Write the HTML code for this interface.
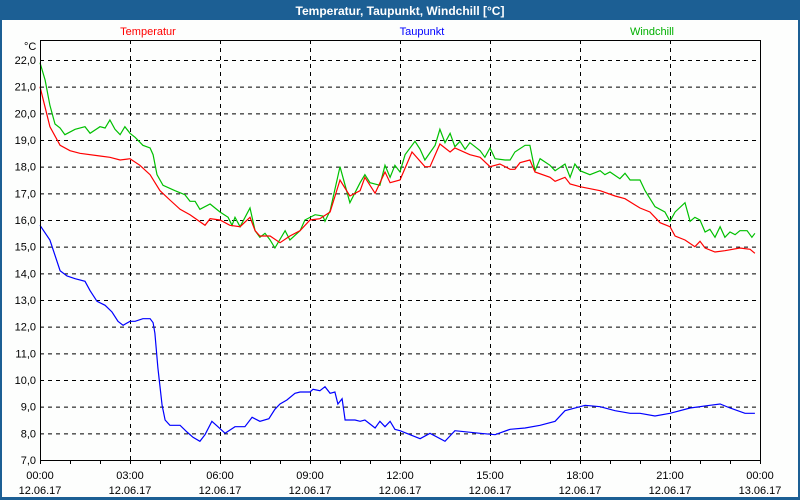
<!DOCTYPE html>
<html><head><meta charset="utf-8"><style>
html,body{margin:0;padding:0;background:#fff}
svg{display:block;font-family:"Liberation Sans",sans-serif}
</style></head><body>
<svg id="chart" width="800" height="500" viewBox="0 0 800 500">
<rect x="0" y="0" width="800" height="500" fill="#1c5f94"/>
<rect x="2" y="20" width="796" height="477" fill="#fdfefd"/>
<text x="400" y="15" text-anchor="middle" fill="#fff" font-weight="bold" font-size="12">Temperatur, Taupunkt, Windchill [°C]</text>
<text x="148" y="35" text-anchor="middle" fill="#ff0000" font-size="11">Temperatur</text>
<text x="422" y="35" text-anchor="middle" fill="#0000ff" font-size="11">Taupunkt</text>
<text x="652" y="35" text-anchor="middle" fill="#00b000" font-size="11">Windchill</text>
<text x="24" y="50" fill="#000" font-size="11">°C</text>
<g id="grid"></g><g id="series"></g><g id="axes"></g>
</svg>
<script>
const yTicks=[7,8,9,10,11,12,13,14,15,16,17,18,19,20,21,22];
const xTickHours=[0,3,6,9,12,15,18,21,24];
const xTimeLabels=["00:00","03:00","06:00","09:00","12:00","15:00","18:00","21:00","00:00"];
const xDateLabels=["12.06.17","12.06.17","12.06.17","12.06.17","12.06.17","12.06.17","12.06.17","12.06.17","13.06.17"];
const tempHours=[0,0.33,0.67,1,1.33,2,2.33,2.67,3,3.33,3.67,4,4.33,4.67,5,5.5,5.67,6,6.33,6.67,7,7.17,7.33,7.67,8,8.33,8.67,9,9.33,9.67,10,10.33,10.67,10.83,11.17,11.5,11.67,12,12.4,12.83,13,13.33,13.67,13.83,14.33,14.67,15,15.33,15.67,15.83,16,16.33,16.5,17,17.17,17.5,17.67,18,18.67,19.17,19.5,20,20.33,20.67,21,21.17,21.5,21.83,22,22.17,22.5,22.83,23.33,23.67,23.83];
const tempValues=[21.0,19.5,18.8,18.6,18.5,18.4,18.35,18.25,18.3,18.05,17.7,17.1,16.75,16.4,16.2,15.8,16.05,16.0,15.8,15.75,16.1,15.6,15.4,15.4,15.15,15.4,15.6,16.0,16.05,16.3,17.5,16.9,17.1,17.6,17.0,17.8,17.4,17.5,18.55,18.0,18.0,18.85,18.55,18.7,18.45,18.35,18.0,18.1,17.9,17.9,18.15,18.25,17.8,17.6,17.45,17.6,17.35,17.25,17.1,16.9,16.8,16.45,16.3,15.9,15.75,15.4,15.25,15.0,15.2,14.95,14.8,14.85,14.95,14.9,14.75];
const windHours=[0,0.17,0.33,0.5,0.67,0.83,1.17,1.5,1.67,2,2.17,2.33,2.5,2.67,2.83,3,3.17,3.43,3.67,3.77,3.9,4.1,4.5,4.83,5,5.17,5.33,5.67,6,6.27,6.4,6.5,6.67,7,7.17,7.33,7.5,7.67,7.83,8.17,8.33,8.67,8.83,9.17,9.43,9.5,9.67,10,10.33,10.67,10.83,11,11.33,11.5,11.67,11.83,12,12.17,12.5,12.67,12.83,13.17,13.33,13.5,13.67,13.83,14,14.17,14.33,14.67,14.83,15,15.17,15.5,15.67,15.83,16.17,16.33,16.5,16.67,17,17.17,17.5,17.67,17.83,18,18.33,18.67,18.83,19,19.33,19.5,19.67,20,20.17,20.5,20.83,21,21.17,21.5,21.67,21.83,22,22.17,22.33,22.5,22.67,22.83,23,23.17,23.33,23.57,23.73,23.83];
const windValues=[21.9,21.25,20.3,19.6,19.45,19.2,19.4,19.5,19.25,19.5,19.45,19.75,19.4,19.2,19.5,19.25,19.1,18.8,18.7,18.45,17.7,17.3,17.1,16.95,16.7,16.7,16.4,16.6,16.3,16.1,15.8,16.1,15.75,16.45,15.6,15.35,15.5,15.25,14.95,15.6,15.25,15.6,16.0,16.2,16.15,15.95,16.35,18.0,16.65,17.4,17.7,17.4,17.3,18.05,17.6,18.05,17.8,18.45,18.95,18.65,18.25,18.8,19.4,18.9,19.25,18.75,18.95,18.65,18.9,18.6,18.35,18.7,18.3,18.25,18.25,18.55,18.8,18.8,17.85,18.3,18.05,17.85,18.1,17.6,18.1,17.85,17.7,17.85,17.7,17.8,17.55,17.75,17.5,17.5,17.1,16.5,16.3,15.95,16.3,16.65,15.95,16.1,16.0,15.55,15.65,15.35,15.75,15.35,15.55,15.45,15.6,15.6,15.35,15.5];
const dewHours=[0,0.33,0.67,0.9,1.17,1.5,1.67,1.9,2.17,2.4,2.6,2.77,3,3.17,3.43,3.67,3.77,3.83,3.93,4.07,4.17,4.33,4.67,4.9,5.1,5.33,5.5,5.73,5.93,6.17,6.5,6.83,7.07,7.33,7.63,7.83,8,8.23,8.5,8.67,8.83,9,9.1,9.33,9.5,9.67,9.83,9.93,10.07,10.17,10.5,10.67,10.83,11,11.17,11.33,11.5,11.67,11.83,12,12.67,13,13.5,13.83,14.67,15.17,15.67,16.17,16.67,17.17,17.5,18.17,18.67,19.17,19.67,20,20.5,21,21.67,22.33,22.67,23,23.5,23.83];
const dewValues=[15.8,15.25,14.1,13.9,13.8,13.7,13.35,12.95,12.8,12.55,12.2,12.05,12.2,12.2,12.3,12.3,12.15,11.75,10.45,9.05,8.5,8.3,8.3,8.05,7.85,7.7,7.95,8.45,8.25,8.0,8.25,8.25,8.6,8.45,8.55,8.9,9.1,9.25,9.5,9.55,9.55,9.55,9.65,9.6,9.75,9.5,9.55,9.1,9.3,8.5,8.5,8.45,8.5,8.35,8.2,8.45,8.25,8.45,8.15,8.1,7.8,8.0,7.7,8.1,8.0,7.95,8.15,8.2,8.3,8.45,8.85,9.05,9.0,8.85,8.75,8.75,8.65,8.75,8.95,9.05,9.1,8.95,8.75,8.75];

const NS="http://www.w3.org/2000/svg";
const L=40,R=760,T=40,B=460,YMIN=7,YMAX=22;
function xs(h){return L+(R-L)*h/24;}
function ys(v){return B-(v-YMIN)*(B-60)/(YMAX-YMIN);}
function mk(tag,attrs,parent){const e=document.createElementNS(NS,tag);for(const k in attrs)e.setAttribute(k,attrs[k]);parent.appendChild(e);return e;}
const grid=document.getElementById('grid'),axes=document.getElementById('axes'),series=document.getElementById('series');
yTicks.forEach(v=>{
  if(v>YMIN){const g=mk('line',{x1:L,x2:R,y1:ys(v)+0.5,y2:ys(v)+0.5,stroke:'#000','stroke-dasharray':'4,4','stroke-width':1},grid);
  
  }
  const t=mk('text',{x:36,y:ys(v)+4,'text-anchor':'end','font-size':11,fill:'#000'},axes);
  t.textContent=v.toFixed(1).replace('.',',');
  
  
});
xTickHours.forEach((h,i)=>{
  if(h>0&&h<24){const g=mk('line',{x1:xs(h)+0.5,x2:xs(h)+0.5,y1:T,y2:B,stroke:'#000','stroke-dasharray':'4,4','stroke-width':1},grid);
  
  }
  const t1=mk('text',{x:xs(h),y:479,'text-anchor':'middle','font-size':11,fill:'#000'},axes);
  t1.textContent=xTimeLabels[i];
  
  
  const t2=mk('text',{x:xs(h),y:494,'text-anchor':'middle','font-size':11,fill:'#000'},axes);
  t2.textContent=xDateLabels[i];
  
  
});
for(let h=0;h<=24;h++){
  const tk=mk('line',{x1:xs(h)+0.5,x2:xs(h)+0.5,y1:B,y2:B+4,stroke:'#000'},axes);
  
  
}
const box=mk('rect',{x:L+0.5,y:T+0.5,width:R-L,height:B-T,fill:'none',stroke:'#000'},axes);


function line(hs,vs,color,name){
  const p=mk('polyline',{points:hs.map((h,i)=>xs(h).toFixed(1)+','+ys(vs[i]).toFixed(1)).join(' '),fill:'none',stroke:color,'stroke-width':1.2},series);
  
  
}
line(dewHours,dewValues,'#0000ff','taupunkt-line');
line(windHours,windValues,'#00c000','windchill-line');
line(tempHours,tempValues,'#ff0000','temperatur-line');
</script>
</body></html>
